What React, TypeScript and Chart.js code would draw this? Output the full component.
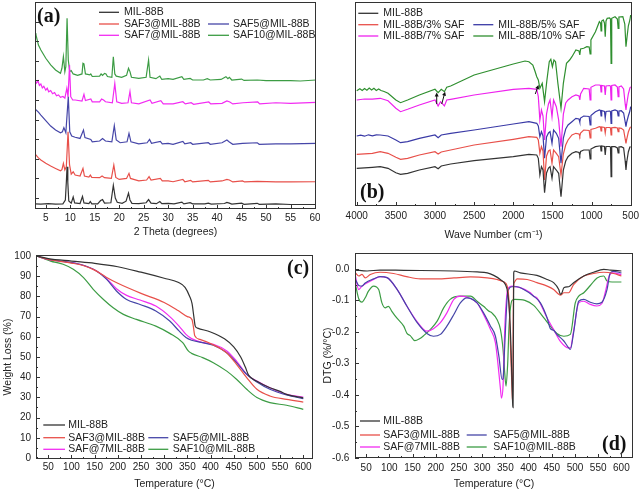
import React, { useEffect, useRef } from 'react';
import { Chart, registerables } from 'chart.js';

Chart.register(...registerables);

type Pt = [number, number];

const SANS = '"Liberation Sans", Arial, Helvetica, sans-serif';
const SERIF = '"Liberation Serif", "Times New Roman", serif';

// ---------- (a) XRD ----------
const xrdLabels = ['MIL-88B', 'SAF3@MIL-88B', 'SAF5@MIL-88B', 'SAF7@MIL-88B', 'SAF10@MIL-88B'];
const xrdTicks = [5, 10, 15, 20, 25, 30, 35, 40, 45, 50, 55, 60];
const xrdMinor = [7.5, 12.5, 17.5, 22.5, 27.5, 32.5, 37.5, 42.5, 47.5, 52.5, 57.5];
const xrdYTicks = [0, 10, 20, 30, 40, 50, 60, 70, 80, 90];

const xrdMIL88B: Pt[] = [[2.8,-3.0],[4,-3.1],[5.5,-2.9],[7,-3.1],[8.5,-3.0],[9.0,-1],[9.2,8],[9.35,16],[9.5,8],[9.7,-1.5],[10.2,-2.6],[10.6,0.5],[10.9,-2.5],[12.0,-2.8],[12.5,0.8],[12.8,-2.5],[13.8,-2.9],[14.1,-1.8],[14.4,-3.0],[15.6,-3.0],[16.2,-1.3],[16.6,-0.8],[17.0,-2.6],[18.3,-2.4],[18.8,6.5],[19.2,0],[19.6,-2.2],[20.6,-2.7],[21.4,-1.6],[21.9,2.5],[22.2,-1.0],[22.6,-2.7],[24.0,-2.9],[25.5,-2.4],[26.0,-0.8],[26.5,-2.6],[27.6,-2.9],[28.3,-1.8],[28.7,-2.9],[30.0,-2.7],[31.2,-3.0],[32.8,-2.1],[33.2,-3.0],[34.5,-2.4],[35.0,-3.0],[37.5,-3.0],[38.2,-2.6],[38.8,-3.1],[41.5,-2.8],[42.0,-2.2],[42.5,-2.6],[43.0,-3.1],[45.0,-2.6],[45.5,-3.2],[48.2,-2.7],[48.6,-3.2],[52.0,-3.0],[55.0,-3.3],[60.2,-3.3]];
const xrdSAF3: Pt[] = [[2.8,22.5],[3.5,20.5],[4,19.4],[5,17.7],[6,16.3],[7,15.1],[8.0,13.9],[8.3,14.5],[8.6,17.7],[8.9,14.4],[9.2,16],[9.55,33.8],[9.85,17],[10.2,12.2],[10.6,13.4],[11,11.7],[12,11.2],[12.6,15.1],[12.9,11.2],[13.8,10.7],[14.1,11.7],[14.4,10.5],[16,10.4],[16.5,11.2],[17,10.4],[18.4,10],[18.9,16.8],[19.3,10.5],[20,9.5],[21.5,10.0],[22.0,12.6],[22.3,10.0],[24,8.8],[25.6,9.2],[26.1,10.9],[26.5,9.2],[28.4,10],[28.8,8.7],[30,8.7],[31,8.3],[33,9.5],[33.4,8.3],[34.6,9.0],[35,8.2],[38.2,9.0],[38.6,8.2],[41,8.7],[42,9.5],[42.5,9.2],[43.2,8.2],[45.2,8.7],[45.6,8.2],[48.2,8.5],[52,8.2],[55,8.2],[60.2,8.3]];
const xrdSAF5: Pt[] = [[2.8,45.5],[3.5,43.8],[4,42.3],[5,39.5],[6,36.7],[7,34.7],[8.0,33.3],[8.4,33.8],[8.7,35.9],[9.1,33.3],[9.6,51.7],[9.9,33.8],[10.3,31.6],[11,31],[12,30.4],[12.7,34.7],[13,30.8],[14.2,29.9],[14.5,28.7],[16,29.1],[16.6,30.4],[17.2,29.1],[18.5,28.7],[19.0,36.9],[19.4,29.6],[20.2,28.2],[21.6,28.7],[22.0,33],[22.4,28.7],[24,27.6],[25.7,28.2],[26.2,29.9],[26.6,27.9],[28.4,28.9],[28.8,27.6],[30,27.9],[31,27.4],[33,28.9],[33.4,27.6],[34.6,28.2],[35,27.4],[38.2,28.2],[38.6,27.4],[41,28.2],[42,29.6],[42.5,28.6],[43.2,27.4],[45.2,27.9],[48.2,28.2],[48.6,27.4],[52,27.6],[55,27.6],[60.2,27.9]];
const xrdSAF7: Pt[] = [[2.8,60],[3.1,58.6],[3.4,59.8],[3.7,57.5],[4.0,58.2],[4.3,56.2],[4.6,57.0],[5.0,55.0],[5.3,56.0],[5.6,54.2],[6.0,54.8],[6.4,53.2],[6.8,53.8],[7.2,52.2],[7.6,52.6],[8.0,51.4],[8.5,51.8],[8.9,51.0],[9.3,56],[9.55,51.5],[9.85,67.9],[10.1,51.7],[10.5,50],[11,50],[12.4,49.5],[12.8,52.9],[13.1,49.7],[14.2,50.5],[14.5,49.1],[16,49.1],[16.4,50.5],[16.8,50],[17.2,49.1],[18.6,48.6],[19.1,58.5],[19.5,49.1],[20.5,48.3],[21.8,48.6],[22.2,54.3],[22.5,48.6],[24,48],[26.3,50],[26.7,48.3],[28.5,49.7],[29,48],[31,48],[33,49.1],[33.5,48],[34.7,48.6],[35.2,47.8],[38.3,49],[38.7,48],[41,48.3],[42,49.5],[42.6,49],[43.2,48],[45.3,48.6],[48.3,49],[48.7,48],[52,48.6],[55,48.3],[60.2,48.8]];
const xrdSAF10: Pt[] = [[2.8,84],[3.0,83.2],[3.5,78],[4,75.5],[5,71.3],[6,67.9],[7,65.3],[8,63.6],[8.3,66.2],[8.6,72.1],[8.9,64.5],[9.1,67],[9.35,91.7],[9.6,70.4],[9.9,64.5],[10.2,65],[10.6,63.3],[11.5,62.6],[12.4,63.3],[12.6,68.7],[12.8,68.4],[13.1,63.3],[14.0,62.8],[14.2,63.3],[14.5,62],[16,62.2],[16.3,63.3],[16.6,62.6],[17.0,63.6],[17.3,63.3],[17.6,62],[18.5,61.6],[18.8,72.1],[19.1,63.3],[19.4,62.2],[20.5,61.6],[21.5,62.6],[21.9,66.2],[22.2,64.5],[22.5,61.6],[24,61],[25.5,61.6],[26.0,70.4],[26.3,61.6],[27.5,60.9],[28.3,62.2],[28.7,60.5],[30,60.9],[31,60.5],[32.8,61.9],[33.2,60.5],[34.5,61],[35,60.2],[37.2,60.2],[38,60.9],[38.6,60.2],[40.8,60.5],[41.8,61.9],[42.2,60.9],[42.5,61.6],[43,60.2],[45,60.7],[45.5,60],[48.2,60.2],[50,59.9],[52,59.9],[55,59.9],[57,59.7],[60.2,60.2]];

// ---------- (b) FTIR ----------
const ftirLabels = ['MIL-88B', 'MIL-88B/3% SAF', 'MIL-88B/5% SAF', 'MIL-88B/7% SAF', 'MIL-88B/10% SAF'];
const ftirTicks = [4000, 3500, 3000, 2500, 2000, 1500, 1000, 500];
const ftirMinor = [3750, 3250, 2750, 2250, 1750, 1250, 750];
const ftirArrows = [[2978, 102, 2978, 113.5], [2914, 102, 2871, 114.3], [1719, 112, 1677, 121]];

const ftirMIL88B: Pt[] = [[4000,37.7],[3800,38.7],[3700,39.3],[3600,37.7],[3500,33.3],[3440,31.7],[3350,32.7],[3200,36],[3000,39.3],[2960,37.3],[2920,40],[2800,42],[2500,45.3],[2000,49.3],[1800,51.7],[1700,51],[1680,47.7],[1660,31],[1640,39.3],[1620,36],[1600,13.3],[1575,33],[1550,38],[1530,39.3],[1505,27.7],[1485,39.3],[1450,36],[1420,32.7],[1390,9.3],[1360,36],[1330,45],[1300,49.3],[1250,52.7],[1200,54.3],[1160,53.5],[1150,51],[1140,54.5],[1100,56],[1030,56],[1018,47],[1008,57],[950,59.3],[900,60],[885,60],[878,55],[870,60],[835,59.5],[825,51],[815,59.5],[770,59.5],[758,59],[750,29.3],[742,59.3],[700,59.3],[670,58],[660,53],[650,59],[620,59.3],[590,58],[570,45],[560,36],[550,44],[530,54],[510,59],[500,59.3]];
const ftirSAF3: Pt[] = [[4000,51.7],[3800,52.7],[3700,54.3],[3600,52.7],[3500,48.7],[3440,46.7],[3350,47.7],[3200,51],[3000,54.3],[2960,52],[2920,54],[2800,56],[2500,61],[2000,66.7],[1800,69.3],[1700,68.7],[1680,66],[1660,52.7],[1640,59.3],[1620,55],[1600,26],[1575,50],[1550,55],[1530,56],[1505,42.7],[1485,56],[1450,52.7],[1420,49.3],[1390,31],[1360,52],[1330,61],[1300,66],[1250,71],[1200,72.7],[1160,72],[1150,70],[1140,73],[1100,76],[1030,75.5],[1018,68],[1008,76.5],[950,77.7],[900,79.3],[885,79],[878,75],[870,79],[835,78.5],[825,73],[815,78.5],[770,78.5],[758,78],[750,71],[742,78.3],[700,78.7],[670,78],[660,74.3],[650,78],[620,77.7],[590,76],[570,67],[560,62.7],[550,67],[530,74],[510,78],[500,79.3]];
const ftirSAF5: Pt[] = [[4000,70],[3950,70.8],[3900,69.8],[3850,71.2],[3800,70.2],[3750,71.2],[3700,71],[3600,70],[3500,66],[3440,63.3],[3350,64.3],[3200,67.7],[3000,71],[2960,68.3],[2920,71],[2800,72.7],[2500,76],[2000,82],[1800,84.3],[1700,82.7],[1680,80],[1660,69.3],[1640,74.3],[1620,70],[1600,47.7],[1575,69],[1550,73],[1530,74.3],[1505,62.7],[1485,76],[1450,72.7],[1420,67.7],[1390,42.7],[1360,68],[1330,77],[1300,81],[1250,84.3],[1200,87.7],[1160,87],[1150,84],[1140,88],[1100,90],[1030,89.5],[1018,81],[1008,90.5],[950,94.3],[900,96],[885,95.5],[878,90],[870,95.5],[835,94.5],[825,88],[815,94.5],[770,95],[758,94.5],[750,82.7],[742,95],[700,96],[670,95],[660,90],[650,95],[620,95.3],[590,93],[570,84],[560,79.3],[550,84],[530,90],[510,95],[500,99.3]];
const ftirSAF7: Pt[] = [[4000,106],[3900,107],[3800,106.8],[3700,107.7],[3600,105.3],[3500,97.7],[3440,94.3],[3350,96.7],[3200,101],[3000,106],[2960,100],[2930,104.3],[2880,100],[2850,106],[2800,106.7],[2500,111],[2000,116.7],[1800,117.7],[1700,116.7],[1680,109.3],[1660,86],[1640,96],[1620,90],[1600,66],[1575,92],[1550,102],[1530,106],[1505,89.3],[1485,106],[1450,99.3],[1420,86],[1390,59.3],[1360,92],[1330,103],[1300,106],[1250,109.3],[1200,111],[1160,110],[1150,106],[1140,112],[1100,117.7],[1030,117],[1018,106],[1008,118.7],[950,121],[900,121],[885,120.5],[878,114],[870,120.5],[835,120],[825,111],[815,120],[770,120.5],[758,120],[750,106],[742,120.5],[700,121],[670,119],[660,109.3],[650,119],[620,120],[590,117],[570,102],[560,96],[550,102],[530,112],[510,118],[500,119.3]];
const ftirSAF10: Pt[] = [[4000,115.3],[3960,117.3],[3930,115.5],[3900,117.5],[3870,115.8],[3840,118],[3810,116],[3780,117.8],[3750,115.6],[3720,117],[3690,115.5],[3650,114.5],[3600,112.7],[3500,106],[3440,103.3],[3350,106],[3200,111],[3000,116.7],[2960,113.3],[2920,116.7],[2880,114.3],[2850,118.7],[2800,120],[2500,131],[2000,142],[1850,145],[1800,144.3],[1750,141],[1720,134.3],[1700,129.3],[1680,126],[1660,117.7],[1630,122.7],[1600,104.3],[1570,126],[1540,144.3],[1520,146.7],[1500,139.3],[1480,146],[1460,144.3],[1430,122.7],[1390,97.7],[1360,122.7],[1320,142.7],[1280,146],[1250,149.3],[1200,156],[1160,155],[1150,151],[1140,157],[1100,157.7],[1060,159.3],[1030,159],[1018,152],[1008,166],[950,174.3],[900,184.3],[885,183],[878,175],[870,185],[850,186],[835,183],[825,169.3],[815,185],[800,187.7],[770,188],[758,187],[750,142.7],[742,187.7],[700,189.3],[670,187],[660,177.7],[650,189],[600,189.3],[575,182],[560,159.3],[545,170],[530,180],[510,186],[500,191]];

// ---------- (c) TGA & (d) DTG ----------
const thermoLabels = ['MIL-88B', 'SAF3@MIL-88B', 'SAF5@MIL-88B', 'SAF@7MIL-88B', 'SAF10@MIL-88B'];
const tempTicks = [50, 100, 150, 200, 250, 300, 350, 400, 450, 500, 550, 600];
const tempMinor = [25, 75, 125, 175, 225, 275, 325, 375, 425, 475, 525, 575];
const tgaYTicks = [0, 10, 20, 30, 40, 50, 60, 70, 80, 90, 100];
const tgaYMinor = [5, 15, 25, 35, 45, 55, 65, 75, 85, 95];
const dtgYTicks = [-0.6, -0.5, -0.4, -0.3, -0.2, -0.1, 0.0];
const dtgYMinor = [-0.55, -0.45, -0.35, -0.25, -0.15, -0.05];

const tgaMIL88B: Pt[] = [[25,100],[50,98.7],[100,97.5],[150,96.4],[200,94.7],[250,92],[300,89],[330,87],[345,84.5],[355,80],[360,76.5],[364,70],[367,65.3],[372,64.3],[400,62.4],[430,59],[450,55],[465,50],[475,45],[482,41],[500,38],[528,34.8],[550,33],[564,31.5],[600,29.8]];
const tgaSAF3: Pt[] = [[25,100],[50,98.3],[100,96.5],[125,95.3],[150,93],[175,89.5],[200,86.5],[250,81.5],[300,77],[330,73],[350,70],[360,68.5],[363,65],[366,60.5],[377,58.7],[406,56],[435,52],[456,46.4],[478,39.8],[500,34],[528,30.7],[564,29],[600,27.7]];
const tgaSAF5: Pt[] = [[25,100],[50,98.3],[82,97.3],[118,95.9],[154,92.6],[176,88.4],[197,82.7],[219,78.5],[248,76],[282,72.8],[312,67.8],[332,62.9],[347,59.6],[359,58.3],[383,57.1],[406,55.8],[435,52.1],[456,47.2],[478,41.4],[500,37.6],[528,34],[564,31.2],[600,29.4]];
const tgaSAF7: Pt[] = [[25,100],[50,98.3],[82,97.3],[118,95.9],[154,92.6],[176,88.8],[197,83.8],[219,80.5],[248,78.2],[282,75.2],[312,70],[332,65.3],[347,61.2],[359,59.1],[383,57.1],[406,56.3],[435,53],[456,48],[478,41.4],[500,38.1],[528,34.8],[564,31.5],[600,30.2]];
const tgaSAF10: Pt[] = [[25,100],[55,97.5],[82,95.9],[104,93.4],[126,89.3],[147,83.5],[169,78.5],[190,74.4],[212,71.1],[240,68.6],[282,65.3],[312,61.7],[340,57.1],[352,53],[359,51.8],[383,49.7],[406,47.2],[435,43],[456,39],[478,34],[500,29.9],[528,27.4],[564,26.1],[600,24.1]];

const dtgMIL88B: Pt[] = [[27,-0.004],[52,-0.007],[80,-0.004],[131,-0.005],[239,-0.007],[289,-0.01],[311,-0.013],[325,-0.021],[339,-0.034],[350,-0.05],[355,-0.076],[359,-0.14],[362,-0.245],[364.5,-0.372],[366,-0.436],[366.6,-0.44],[367.2,-0.25],[368,-0.013],[369.4,-0.007],[382,-0.013],[418,-0.021],[440,-0.034],[454,-0.044],[465,-0.066],[468.5,-0.081],[472,-0.076],[476,-0.06],[486.5,-0.057],[497,-0.044],[519,-0.023],[540,-0.011],[562,-0.002],[576,-0.004],[600,-0.007]];
const dtgSAF3: Pt[] = [[27,-0.013],[34,-0.023],[41,-0.018],[48,-0.029],[59,-0.018],[80,-0.011],[109,-0.015],[137,-0.025],[167,-0.032],[203,-0.032],[239,-0.029],[275,-0.026],[311,-0.029],[332,-0.034],[347,-0.042],[354,-0.055],[358,-0.108],[361,-0.245],[364.5,-0.39],[365.5,-0.42],[366.3,-0.3],[367.5,-0.06],[369,-0.044],[375,-0.032],[397,-0.034],[418,-0.044],[440,-0.055],[454,-0.066],[465,-0.081],[468.5,-0.084],[476,-0.076],[486.5,-0.076],[497,-0.05],[519,-0.023],[540,-0.015],[562,-0.011],[583,-0.015],[600,-0.023]];
const dtgSAF5: Pt[] = [[27,-0.034],[34,-0.053],[41,-0.055],[48,-0.045],[66,-0.032],[80,-0.025],[95,-0.028],[117,-0.066],[138,-0.119],[160,-0.171],[181,-0.205],[195,-0.214],[210,-0.208],[224,-0.182],[239,-0.145],[253,-0.108],[267,-0.092],[275,-0.094],[289,-0.108],[303,-0.14],[318,-0.182],[328.6,-0.214],[336,-0.277],[343,-0.351],[345,-0.349],[348.6,-0.245],[353.6,-0.097],[357,-0.066],[364.5,-0.057],[375,-0.057],[389.6,-0.066],[411,-0.087],[425.5,-0.108],[440,-0.156],[447,-0.19],[454,-0.195],[461,-0.208],[476,-0.229],[486.5,-0.251],[490,-0.256],[497,-0.203],[508,-0.103],[519,-0.097],[533,-0.106],[547,-0.111],[558,-0.106],[569,-0.066],[576,-0.013],[583,-0.008],[600,-0.013]];
const dtgSAF7: Pt[] = [[27,-0.023],[34,-0.066],[41,-0.055],[66,-0.034],[80,-0.025],[95,-0.028],[117,-0.066],[138,-0.119],[160,-0.168],[181,-0.198],[195,-0.19],[210,-0.171],[224,-0.14],[239,-0.097],[253,-0.087],[267,-0.09],[289,-0.108],[303,-0.145],[318,-0.193],[328.6,-0.235],[336,-0.33],[339.5,-0.383],[341.6,-0.41],[345,-0.372],[348.6,-0.193],[353.6,-0.076],[357,-0.06],[364.5,-0.055],[382,-0.06],[404,-0.076],[411,-0.087],[418,-0.092],[440,-0.156],[454,-0.193],[468.5,-0.23],[486.5,-0.251],[490,-0.251],[497,-0.198],[508,-0.108],[519,-0.103],[533,-0.113],[547,-0.118],[558,-0.11],[565,-0.076],[573.6,-0.023],[581,-0.013],[600,-0.018]];
const dtgSAF10: Pt[] = [[27,-0.05],[34,-0.095],[41,-0.106],[48,-0.092],[55,-0.071],[66,-0.055],[77,-0.066],[84,-0.108],[91,-0.124],[98,-0.119],[105,-0.134],[116,-0.156],[131,-0.182],[138,-0.205],[145,-0.212],[155,-0.228],[165,-0.222],[174,-0.212],[188,-0.193],[203,-0.166],[217,-0.124],[231,-0.097],[253,-0.087],[275,-0.087],[289,-0.103],[303,-0.119],[314,-0.134],[321,-0.14],[332,-0.161],[339.5,-0.193],[345,-0.256],[348.6,-0.33],[351.4,-0.372],[355,-0.3],[358,-0.18],[364.5,-0.1],[370.4,-0.097],[392,-0.1],[411,-0.116],[433,-0.156],[447,-0.182],[461,-0.205],[476,-0.214],[490,-0.208],[500.6,-0.108],[508,-0.087],[519,-0.076],[533,-0.053],[547.6,-0.029],[562,-0.023],[569,-0.039],[580,-0.042],[600,-0.042]];

// ---------- styles ----------
const COLORS = ['#333333', '#e8504a', '#4646a8', '#f22cf2', '#3c9c44'];
const COLORS_B = ['#333333', '#e8504a', '#3a3aa6', '#ee22ee', '#2f8f2f'];
const LEG_POS: [number, number][] = [[0, 0], [1, 0], [1, 1], [2, 0], [2, 1]];
const W = 320;
const H = 246;

function decoPlugin(spec: any) {
  return {
    id: 'deco',
    afterDraw(chart: any) {
      const ctx = chart.ctx;
      const { left, right, top, bottom } = chart.chartArea;
      const xs = chart.scales.x;
      const ys = chart.scales.y;
      ctx.save();
      ctx.strokeStyle = '#333';
      ctx.lineWidth = 1;
      ctx.strokeRect(Math.round(left) + 0.5, Math.round(top) + 0.5, Math.round(right - left) - 1, Math.round(bottom - top) - 1);
      ctx.beginPath();
      const xt = (v: number, len: number) => {
        const p = Math.round(xs.getPixelForValue(v)) + 0.5;
        ctx.moveTo(p, bottom);
        ctx.lineTo(p, bottom - len);
      };
      const yt = (v: number, len: number) => {
        const p = Math.round(ys.getPixelForValue(v)) + 0.5;
        ctx.moveTo(left, p);
        ctx.lineTo(left + len, p);
      };
      spec.x.ticks.forEach((v: number) => xt(v, 4));
      spec.x.minor.forEach((v: number) => xt(v, 2));
      if (spec.y.marks) {
        spec.y.ticks.forEach((v: number) => yt(v, 4));
        spec.y.minor.forEach((v: number) => yt(v, 2));
      }
      ctx.stroke();

      if (spec.arrows) {
        ctx.strokeStyle = '#111';
        ctx.fillStyle = '#111';
        spec.arrows.forEach((a: number[]) => {
          const x1 = xs.getPixelForValue(a[0]);
          const y1 = ys.getPixelForValue(a[1]);
          const x2 = xs.getPixelForValue(a[2]);
          const y2 = ys.getPixelForValue(a[3]);
          const ang = Math.atan2(y2 - y1, x2 - x1);
          ctx.beginPath();
          ctx.moveTo(x1, y1);
          ctx.lineTo(x2 - 2 * Math.cos(ang), y2 - 2 * Math.sin(ang));
          ctx.stroke();
          ctx.beginPath();
          ctx.moveTo(x2, y2);
          ctx.lineTo(x2 - 4 * Math.cos(ang) + 2 * Math.sin(ang), y2 - 4 * Math.sin(ang) - 2 * Math.cos(ang));
          ctx.lineTo(x2 - 4 * Math.cos(ang) - 2 * Math.sin(ang), y2 - 4 * Math.sin(ang) + 2 * Math.cos(ang));
          ctx.closePath();
          ctx.fill();
        });
      }

      ctx.font = `10.5px ${SANS}`;
      ctx.textBaseline = 'middle';
      ctx.textAlign = 'left';
      spec.series.forEach((s: any, i: number) => {
        const [row, col] = LEG_POS[i];
        const y = spec.legend.rows[row];
        const c = spec.legend.cols[col];
        ctx.strokeStyle = s.color;
        ctx.lineWidth = 1.3;
        ctx.beginPath();
        ctx.moveTo(c.x1, y);
        ctx.lineTo(c.x2, y);
        ctx.stroke();
        ctx.fillStyle = '#222';
        ctx.fillText(s.label, c.tx, y);
      });

      ctx.font = `bold 20px ${SERIF}`;
      ctx.fillStyle = '#111';
      ctx.fillText(spec.tag.text, spec.tag.x, spec.tag.y);
      ctx.restore();
    },
  };
}

function makeConfig(spec: any) {
  const [l, t, r, b] = spec.area;
  return {
    type: 'line',
    data: {
      datasets: spec.series.map((s: any) => ({
        label: s.label,
        data: s.data,
        borderColor: s.color,
        backgroundColor: s.color,
        borderWidth: 1.2,
        pointRadius: 0,
        fill: false,
        tension: 0,
        cubicInterpolationMode: spec.smooth ? 'monotone' : 'default',
      })),
    },
    options: {
      responsive: false,
      animation: false,
      events: [],
      layout: { padding: { left: 0, top: t, right: W - r, bottom: 0 } },
      plugins: { legend: { display: false }, tooltip: { enabled: false } },
      scales: {
        x: {
          type: 'linear',
          min: spec.x.min,
          max: spec.x.max,
          reverse: !!spec.x.reverse,
          grid: { display: false, drawTicks: false },
          border: { display: false },
          ticks: { autoSkip: false, maxRotation: 0, padding: spec.x.pad, font: { family: SANS, size: 10 }, color: '#222', callback: (v: any) => String(v) },
          title: { display: true, text: spec.x.title, font: { family: SANS, size: 10.5 }, color: '#222', padding: { top: 0, bottom: spec.x.titlePad } },
          afterBuildTicks: (s: any) => { s.ticks = spec.x.ticks.map((v: number) => ({ value: v })); },
          afterFit: (s: any) => { s.height = H - b; s.paddingLeft = 0; s.paddingRight = 0; s.paddingTop = 0; s.paddingBottom = 0; },
        },
        y: {
          type: 'linear',
          min: spec.y.min,
          max: spec.y.max,
          grid: { display: false, drawTicks: false },
          border: { display: false },
          ticks: {
            display: spec.y.labels,
            autoSkip: false,
            padding: spec.y.pad,
            font: { family: SANS, size: 10 },
            color: '#222',
            callback: spec.y.fmt ? (v: any) => spec.y.fmt(Number(v)) : (v: any) => String(v),
          },
          title: { display: !!spec.y.title, text: spec.y.title || '', font: { family: SANS, size: 10.5 }, color: '#222', padding: { top: spec.y.titlePad || 0, bottom: 0 } },
          afterBuildTicks: (s: any) => { s.ticks = spec.y.ticks.map((v: number) => ({ value: v })); },
          afterFit: (s: any) => { s.width = l; s.paddingLeft = 0; s.paddingRight = 0; s.paddingTop = 0; s.paddingBottom = 0; },
        },
      },
    },
    plugins: [decoPlugin(spec)],
  };
}

const specA = {
  area: [35, 2, 316, 209],
  x: { min: 2.8, max: 60.2, ticks: xrdTicks, minor: xrdMinor, pad: 3, title: '2 Theta (degrees)', titlePad: 7.7 },
  y: { min: -5.6, max: 100, ticks: xrdYTicks, minor: [], labels: false, marks: true, pad: 3 },
  series: [xrdMIL88B, xrdSAF3, xrdSAF5, xrdSAF7, xrdSAF10].map((d, i) => ({ label: xrdLabels[i], data: d, color: COLORS[i] })),
  smooth: false,
  legend: { rows: [12.3, 24, 35.3], cols: [{ x1: 99, x2: 119, tx: 124 }, { x1: 208, x2: 229, tx: 233 }] },
  tag: { text: '(a)', x: 37, y: 16.7 },
};

const specB = {
  area: [35, 2, 312, 206],
  x: { min: 483, max: 4022, reverse: true, ticks: ftirTicks, minor: ftirMinor, pad: 4.7, title: 'Wave Number (cm\u207B\u00B9)', titlePad: 4.7 },
  y: { min: 0, max: 204, ticks: [], minor: [], labels: false, marks: false, pad: 3 },
  series: [ftirMIL88B, ftirSAF3, ftirSAF5, ftirSAF7, ftirSAF10].map((d, i) => ({ label: ftirLabels[i], data: d, color: COLORS_B[i] })),
  smooth: false,
  legend: { rows: [13.3, 24.7, 36], cols: [{ x1: 38.3, x2: 58.3, tx: 63.3 }, { x1: 153.3, x2: 173.3, tx: 178.3 }] },
  tag: { text: '(b)', x: 40, y: 192.5 },
  arrows: ftirArrows,
};

const specC = {
  area: [36, 9, 313, 213],
  x: { min: 23.5, max: 621, ticks: tempTicks, minor: tempMinor, pad: 2.7, title: 'Temperature (\u00B0C)', titlePad: 1.4 },
  y: { min: -0.5, max: 100.5, ticks: tgaYTicks, minor: tgaYMinor, labels: true, marks: true, pad: 5, title: 'Weight Loss (%)', titlePad: 2 },
  series: [tgaMIL88B, tgaSAF3, tgaSAF5, tgaSAF7, tgaSAF10].map((d, i) => ({ label: thermoLabels[i], data: d, color: COLORS[i] })),
  smooth: true,
  legend: { rows: [179, 191.7, 203.3], cols: [{ x1: 43.3, x2: 65, tx: 68.3 }, { x1: 148.3, x2: 168.3, tx: 172.7 }] },
  tag: { text: '(c)', x: 287, y: 23.3 },
};

const specD = {
  area: [35, 7, 313, 212],
  x: { min: 26, max: 625, ticks: tempTicks, minor: tempMinor, pad: 4.7, title: 'Temperature (\u00B0C)', titlePad: 1.4 },
  y: { min: -0.6, max: 0.05, ticks: dtgYTicks, minor: dtgYMinor, labels: true, marks: true, pad: 5.7, title: 'DTG (%/\u00B0C)', titlePad: 1.7, fmt: (v: number) => v.toFixed(1) },
  series: [dtgMIL88B, dtgSAF3, dtgSAF5, dtgSAF7, dtgSAF10].map((d, i) => ({ label: thermoLabels[i], data: d, color: COLORS[i] })),
  smooth: true,
  legend: { rows: [175, 189, 201], cols: [{ x1: 40, x2: 60, tx: 63.3 }, { x1: 146.7, x2: 166.7, tx: 173.3 }] },
  tag: { text: '(d)', x: 282, y: 199 },
};

function Panel({ left, top, spec }: { left: number; top: number; spec: any }) {
  const ref = useRef<HTMLCanvasElement>(null);
  useEffect(() => {
    const chart = new Chart(ref.current as HTMLCanvasElement, makeConfig(spec) as any);
    return () => chart.destroy();
  }, [spec]);
  return (
    <div style={{ position: 'absolute', left, top, width: W, height: H }}>
      <canvas ref={ref} width={W} height={H} style={{ display: 'block', width: W, height: H }} />
    </div>
  );
}

export default function App() {
  return (
    <div style={{ position: 'absolute', left: 0, top: 0, width: 640, height: 492, background: '#ffffff', overflow: 'hidden' }}>
      <Panel left={0} top={0} spec={specA} />
      <Panel left={320} top={0} spec={specB} />
      <Panel left={0} top={246} spec={specC} />
      <Panel left={320} top={246} spec={specD} />
    </div>
  );
}
